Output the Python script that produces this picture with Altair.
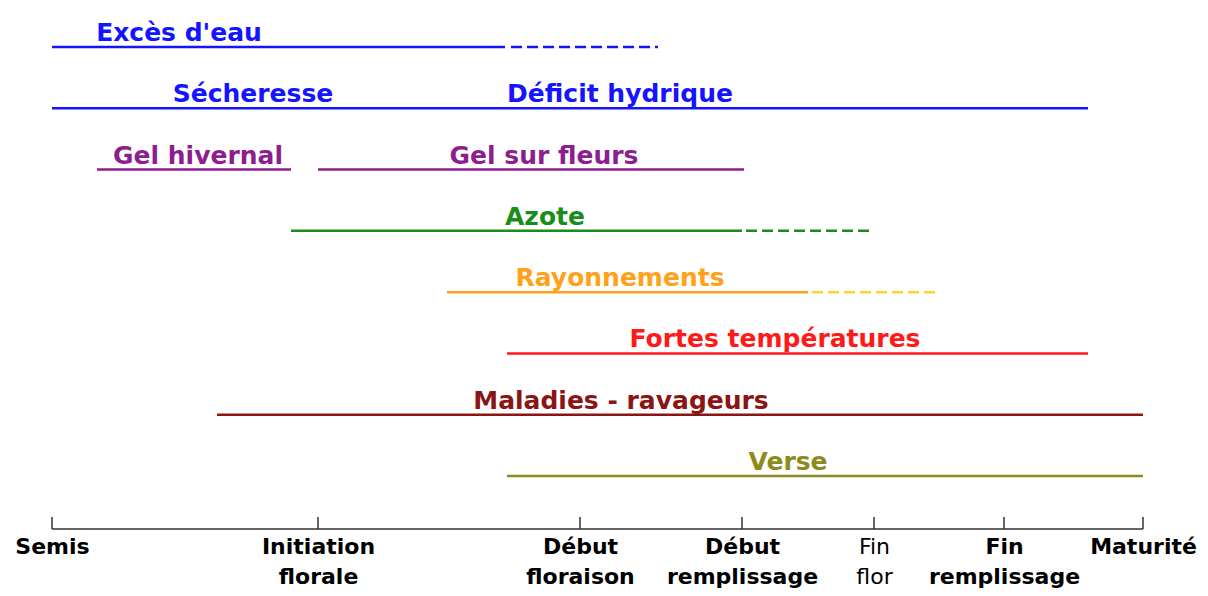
import altair as alt
import pandas as pd

# Stades (position en unités de l'axe)
stage_pos = [0, 266, 528, 690, 822, 952, 1091]
stage_lab = [["Semis"], ["Initiation", "florale"], ["Début", "floraison"],
             ["Début", "remplissage"], ["Fin", "flor"], ["Fin", "remplissage"], ["Maturité"]]

# Segments de risque
seg_key = ["Excès d'eau", "Excès d'eau", "Déficit hydrique", "Gel", "Gel",
           "Azote", "Azote", "Rayonnements", "Rayonnements (fin)",
           "Fortes températures", "Maladies - ravageurs", "Verse"]
seg_row = [0, 0, 1, 2, 2, 3, 3, 4, 4, 5, 6, 7]
seg_start = [0, 459, 0, 45, 266, 239, 694, 395, 760, 455, 165, 455]
seg_end = [453, 606, 1036, 239, 692, 690, 822, 756, 888, 1036, 1091, 1091]
seg_phase = ["certain", "possible", "certain", "certain", "certain", "certain",
             "possible", "certain", "possible", "certain", "certain", "certain"]

# Libellés
lab_text = ["Excès d'eau", "Sécheresse", "Déficit hydrique", "Gel hivernal", "Gel sur fleurs",
            "Azote", "Rayonnements", "Fortes températures", "Maladies - ravageurs", "Verse"]
lab_key = ["Excès d'eau", "Déficit hydrique", "Déficit hydrique", "Gel", "Gel",
           "Azote", "Rayonnements", "Fortes températures", "Maladies - ravageurs", "Verse"]
lab_row = [0, 1, 1, 2, 2, 3, 4, 5, 6, 7]
lab_x = [127, 201, 568, 146, 492, 493, 568, 723, 569, 736]

color_domain = ["Excès d'eau", "Déficit hydrique", "Gel", "Azote", "Rayonnements",
                "Rayonnements (fin)", "Fortes températures", "Maladies - ravageurs", "Verse"]
color_range = ["#1414ff", "#1414ff", "#8e1e8e", "#1a8c1a", "#ffa21a",
               "#ffd42a", "#ff1a1a", "#8b1414", "#8c8c1e"]

segs = pd.DataFrame({"key": seg_key, "row": seg_row, "start": seg_start,
                     "end": seg_end, "phase": seg_phase})
labs = pd.DataFrame({"text": lab_text, "key": lab_key, "row": lab_row, "x": lab_x})
stages = pd.DataFrame({"pos": stage_pos})
base_df = pd.DataFrame({"a": [stage_pos[0]], "b": [stage_pos[-1]]})

label_map = "{" + ",".join(
    f"'{p}': {[str(s) for s in l]}" for p, l in zip(stage_pos, stage_lab)) + "}"
label_expr = f"{label_map}[datum.value + '']"

xscale = alt.Scale(domain=[-44, 1148], nice=False, zero=False)
yscale = alt.Scale(domain=[-0.636, 7.865], reverse=True, nice=False, zero=False)
cscale = alt.Scale(domain=color_domain, range=color_range)

lines = alt.Chart(segs).mark_rule(strokeWidth=2.5, strokeCap="butt").encode(
    x=alt.X("start:Q", scale=xscale,
            axis=alt.Axis(values=stage_pos, labelExpr=label_expr, title=None,
                          domain=False, ticks=False, grid=False,
                          labelFont="DejaVu Sans", labelFontSize=22,
                          labelFontWeight=alt.condition("datum.value == 822",
                                                        alt.value("normal"),
                                                        alt.value("bold")),
                          labelColor="black", labelLineHeight=30,
                          labelPadding=7, labelBaseline="top",
                          labelOverlap=False, labelFlush=False)),
    x2="end:Q",
    y=alt.Y("row:Q", scale=yscale, axis=None),
    color=alt.Color("key:N", scale=cscale, legend=None),
    strokeDash=alt.StrokeDash("phase:N",
                              scale=alt.Scale(domain=["certain", "possible"],
                                              range=[[1, 0], [11, 5]]),
                              legend=None),
)

texts = alt.Chart(labs).mark_text(font="DejaVu Sans", fontWeight="bold", fontSize=25,
                                  baseline="middle", align="center", dy=-14).encode(
    x=alt.X("x:Q", scale=xscale),
    y=alt.Y("row:Q", scale=yscale),
    text="text:N",
    color=alt.Color("key:N", scale=cscale, legend=None),
)

baseline = alt.Chart(base_df).mark_rule(color="#333333", strokeWidth=1.5).encode(
    x=alt.X("a:Q", scale=xscale), x2="b:Q", y=alt.value(521))

ticks = alt.Chart(stages).mark_rule(color="#333333", strokeWidth=1.5).encode(
    x=alt.X("pos:Q", scale=xscale), y=alt.value(509), y2=alt.value(521))

chart = alt.layer(lines, texts, baseline, ticks).properties(
    width=1192, height=521,
    autosize=alt.AutoSizeParams(type="none"),
    padding={"left": 0, "top": 0, "right": 0, "bottom": 70},
    background="white",
).configure_view(stroke=None)

chart.save("out.html", embed_options={"renderer": "svg", "actions": False})
